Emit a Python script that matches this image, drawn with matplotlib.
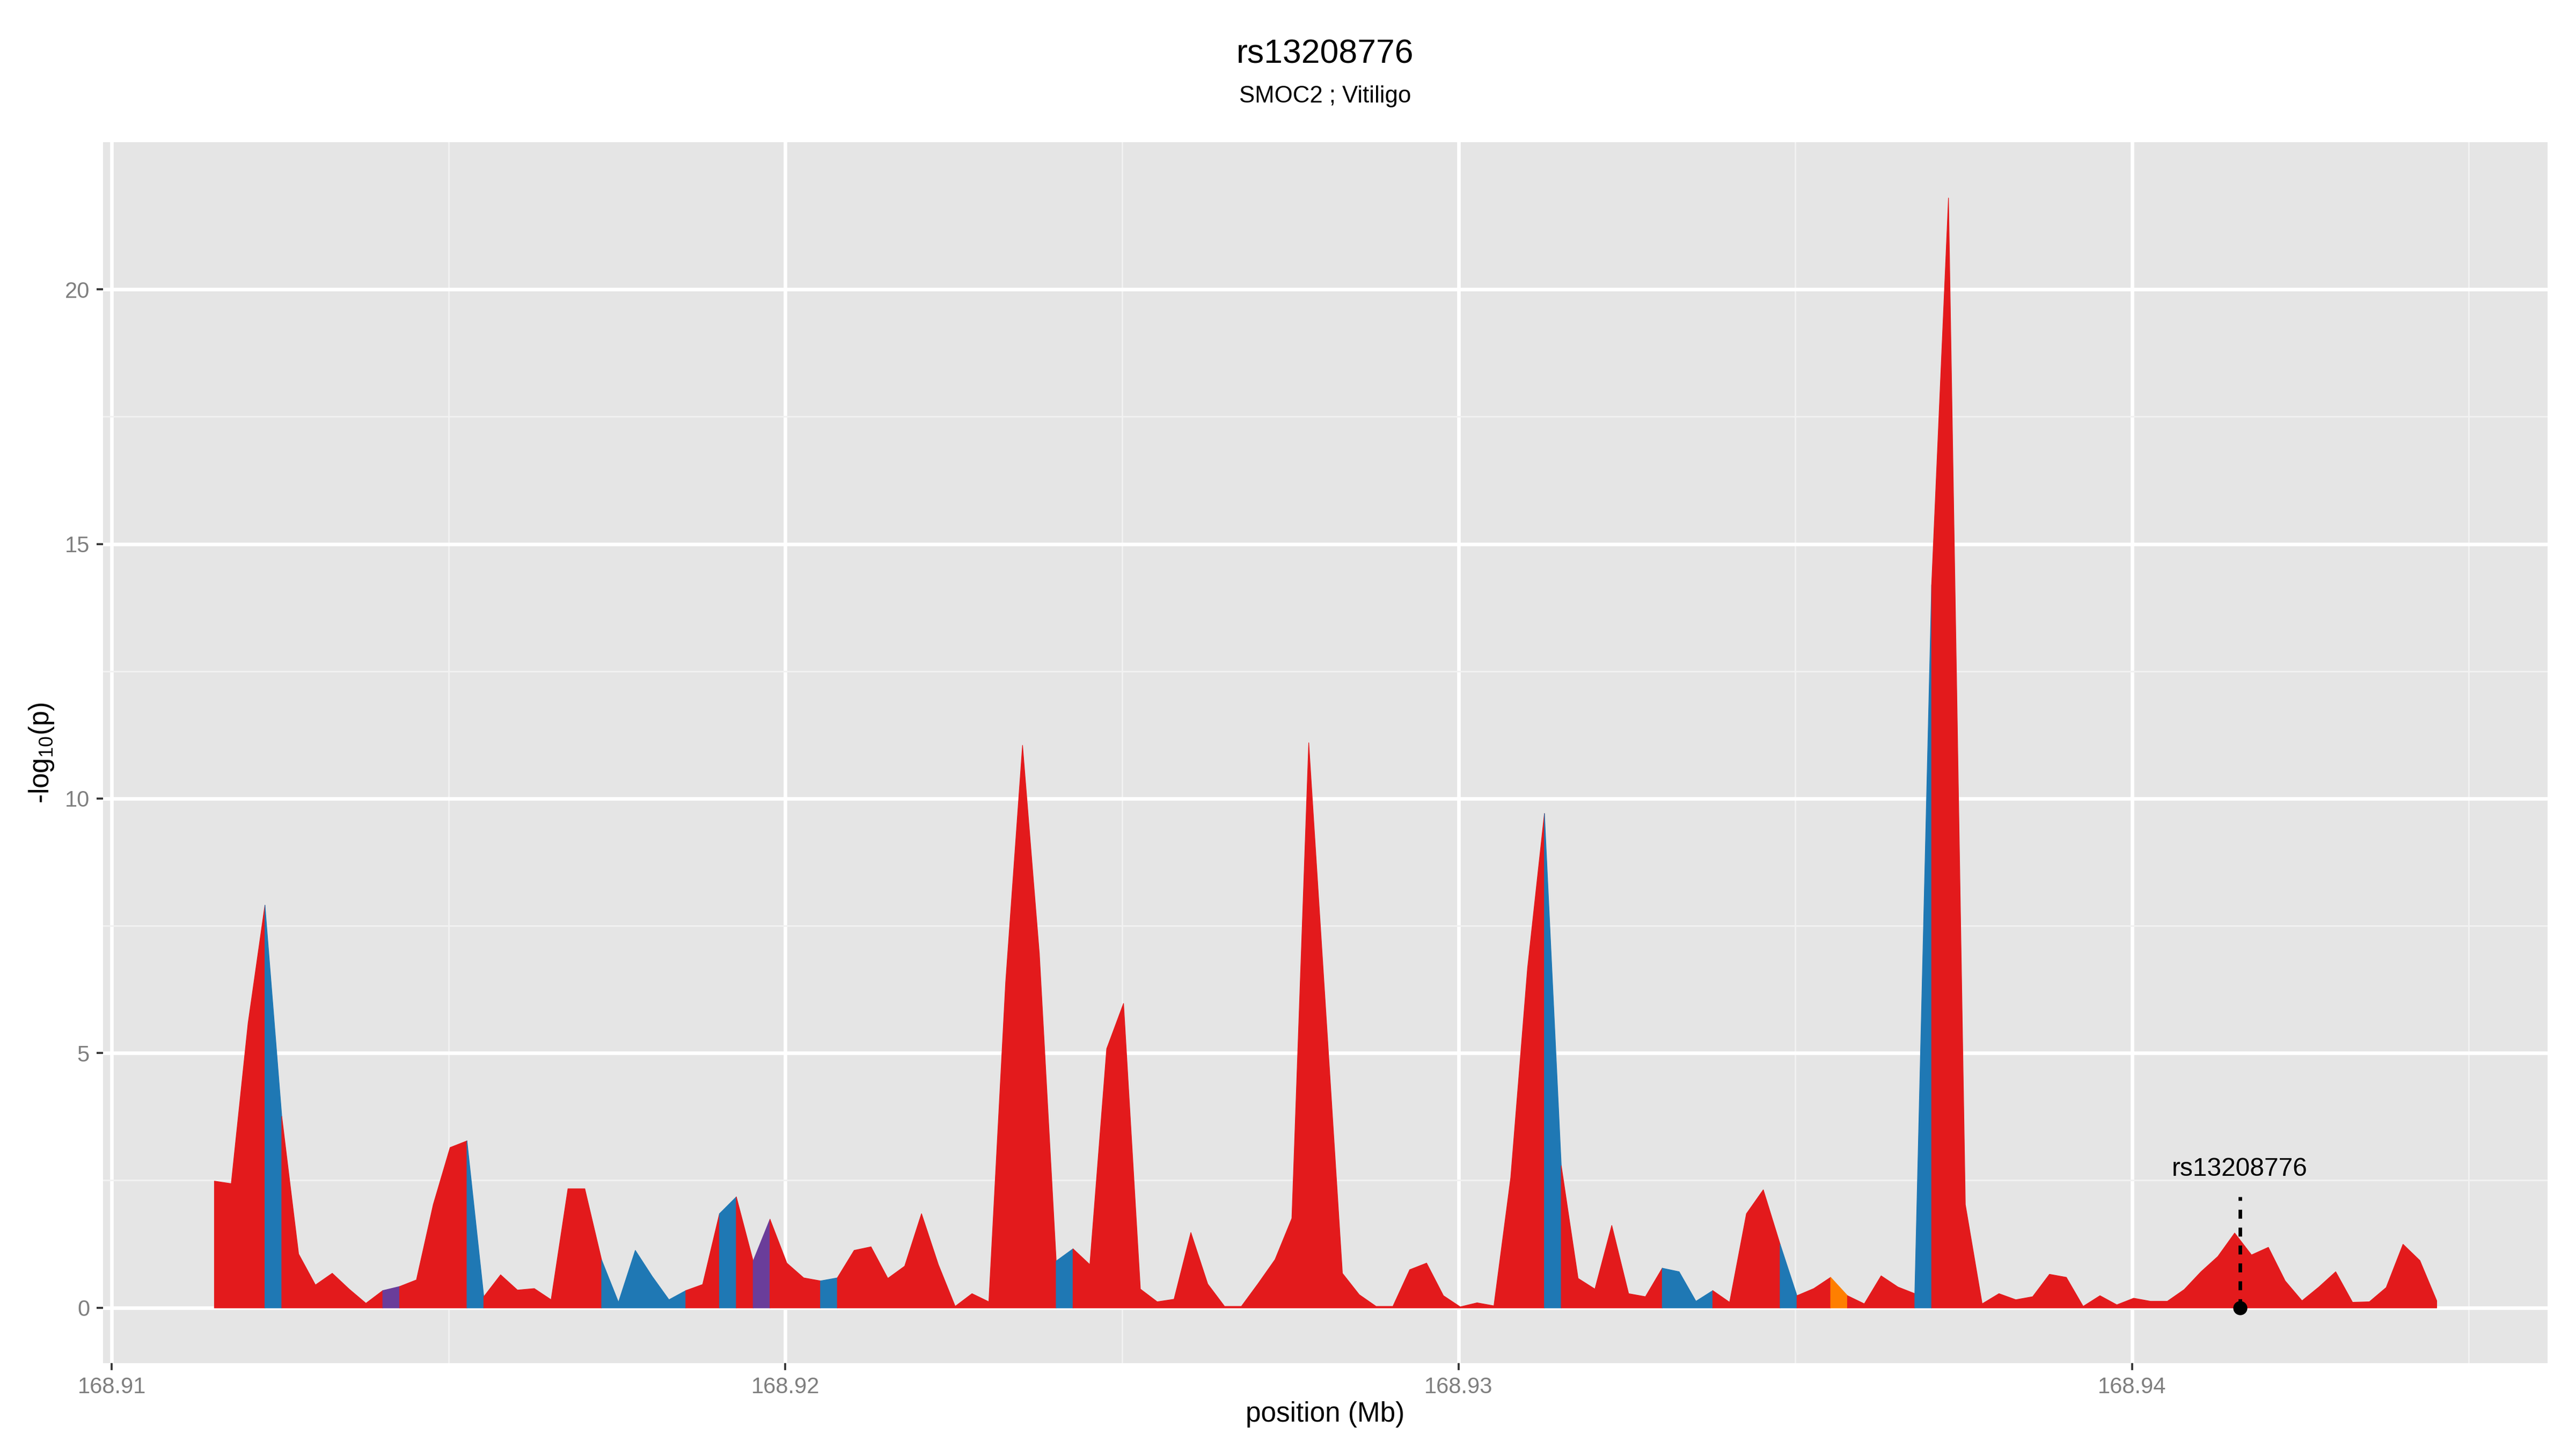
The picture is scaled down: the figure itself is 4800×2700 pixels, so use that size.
import numpy as np
from matplotlib import pyplot as plt

plt.rcParams['font.family'] = ['Liberation Sans', 'DejaVu Sans']
plt.rcParams['mathtext.fontset'] = 'custom'
plt.rcParams['mathtext.rm'] = 'Liberation Sans'
plt.rcParams['mathtext.it'] = 'Liberation Sans'

# SNP positions (Mb)
pos = [
    168.91152, 168.91177, 168.91202, 168.91227, 168.91252, 168.91277, 168.91302, 168.91327,
    168.91352, 168.91377, 168.91402, 168.91427, 168.91452, 168.91477, 168.91502, 168.91527,
    168.91552, 168.91577, 168.91602, 168.91627, 168.91652, 168.91677, 168.91702, 168.91727,
    168.91752, 168.91777, 168.91802, 168.91827, 168.91852, 168.91877, 168.91902, 168.91927,
    168.91952, 168.91977, 168.92002, 168.92027, 168.92052, 168.92077, 168.92102, 168.92127,
    168.92152, 168.92177, 168.92202, 168.92227, 168.92252, 168.92277, 168.92302, 168.92327,
    168.92352, 168.92377, 168.92402, 168.92427, 168.92452, 168.92477, 168.92502, 168.92527,
    168.92552, 168.92577, 168.92602, 168.92627, 168.92652, 168.92677, 168.92702, 168.92727,
    168.92752, 168.92777, 168.92802, 168.92827, 168.92852, 168.92877, 168.92902, 168.92927,
    168.92952, 168.92977, 168.93002, 168.93027, 168.93052, 168.93077, 168.93102, 168.93127,
    168.93152, 168.93177, 168.93202, 168.93227, 168.93252, 168.93277, 168.93302, 168.93327,
    168.93352, 168.93377, 168.93402, 168.93427, 168.93452, 168.93477, 168.93502, 168.93527,
    168.93552, 168.93577, 168.93602, 168.93627, 168.93652, 168.93677, 168.93702, 168.93727,
    168.93752, 168.93777, 168.93802, 168.93827, 168.93852, 168.93877, 168.93902, 168.93927,
    168.93952, 168.93977, 168.94002, 168.94027, 168.94052, 168.94077, 168.94102, 168.94127,
    168.94152, 168.94177, 168.94202, 168.94227, 168.94252, 168.94277, 168.94302, 168.94327,
    168.94352, 168.94377, 168.94402, 168.94427, 168.94452,
]

# -log10(p)
logp = [
    2.49, 2.44, 5.59, 7.91, 3.76, 1.06, 0.45, 0.68, 0.37, 0.09,
    0.34, 0.42, 0.55, 2.03, 3.15, 3.28, 0.22, 0.65, 0.35, 0.38,
    0.16, 2.34, 2.34, 0.94, 0.11, 1.13, 0.62, 0.16, 0.34, 0.46,
    1.85, 2.18, 0.92, 1.74, 0.88, 0.59, 0.53, 0.59, 1.13, 1.20,
    0.58, 0.82, 1.85, 0.85, 0.03, 0.28, 0.12, 6.40, 11.05, 6.95,
    0.92, 1.16, 0.85, 5.09, 5.98, 0.37, 0.12, 0.17, 1.48, 0.47,
    0.03, 0.03, 0.48, 0.95, 1.76, 11.10, 5.90, 0.68, 0.26, 0.03,
    0.03, 0.75, 0.88, 0.24, 0.02, 0.10, 0.04, 2.56, 6.68, 9.71,
    2.79, 0.58, 0.37, 1.62, 0.28, 0.22, 0.78, 0.71, 0.13, 0.34,
    0.11, 1.85, 2.32, 1.25, 0.24, 0.38, 0.60, 0.24, 0.08, 0.63,
    0.41, 0.28, 14.20, 21.80, 2.03, 0.08, 0.28, 0.16, 0.22, 0.66,
    0.60, 0.03, 0.24, 0.06, 0.19, 0.13, 0.13, 0.36, 0.71, 1.01,
    1.47, 1.04, 1.19, 0.53, 0.14, 0.41, 0.71, 0.11, 0.12, 0.40,
    1.25, 0.93, 0.14,
]

# fill class of each segment between neighbouring SNPs
seg_class = list(
    "RRRBRRRRRR" "PRRRRBRRRR" "RRRBBBBBRR" "BRPRRRBRRR" "RRRRRRRRRR"
    "BRRRRRRRRR" "RRRRRRRRRR" "RRRRRRRRRB" "RRRRRRBBBR" "RRRBRRORRR"
    "RBRRRRRRRR" "RRRRRRRRRR" "RRRRRRRRRR" "RR"
)
class_colors = {'R': '#E31A1C', 'B': '#1F78B4', 'P': '#6A3D9A', 'O': '#FF7F00'}

snp_name = 'rs13208776'
snp_pos = 168.9416
snp_line_top = 2.18
snp_label_y = 2.72

title = 'rs13208776'
subtitle = 'SMOC2 ; Vitiligo'

W, H = 4800, 2700
fig = plt.figure(figsize=(16, 9), dpi=300)

xr = pos[-1] - pos[0]
xlim = (pos[0] - 0.05 * xr, pos[-1] + 0.05 * xr)
ymax = max(logp)
ylim = (-0.05 * ymax, 1.05 * ymax)

left, right, top, bottom = 192, 4747, 265, 2540
ax = fig.add_axes([left / W, 1 - bottom / H, (right - left) / W, (bottom - top) / H])
ax.set_facecolor('#E5E5E5')
for s in ax.spines.values():
    s.set_visible(False)

# draw runs of the same class as one polygon
start = 0
for i in range(1, len(seg_class) + 1):
    if i == len(seg_class) or seg_class[i] != seg_class[start]:
        c = class_colors[seg_class[start]]
        ax.fill_between(pos[start:i + 1], logp[start:i + 1], 0, facecolor=c,
                        edgecolor=c, linewidth=0.3, zorder=2)
        start = i

ax.plot([snp_pos, snp_pos], [0, snp_line_top], color='black', lw=1.6,
        linestyle=(0, (2.5, 2.5)), zorder=3)
ax.plot([snp_pos], [0], 'o', color='black', markersize=5.3, zorder=4)
ax.text(snp_pos, snp_label_y, snp_name, ha='center', va='center', fontsize=11.5, zorder=4)

ax.set_xticks([168.91, 168.92, 168.93, 168.94])
ax.set_xticklabels(['168.91', '168.92', '168.93', '168.94'])
ax.set_xticks([168.915, 168.925, 168.935, 168.945], minor=True)
ax.set_yticks([0, 5, 10, 15, 20])
ax.set_yticks([2.5, 7.5, 12.5, 17.5], minor=True)
ax.set_xlim(xlim)
ax.set_ylim(ylim)
ax.grid(which='major', color='white', linewidth=1.6)
ax.grid(which='minor', color='#F2F2F2', linewidth=0.65)
ax.set_axisbelow(True)
ax.tick_params(which='major', length=3, width=0.9, color='#333333',
               labelcolor='#7F7F7F', labelsize=10, pad=3)
ax.tick_params(which='minor', length=0)

cx = (left + right) / 2 / W
fig.text(cx, 1 - 101 / H, title, ha='center', va='center', fontsize=15)
fig.text(cx, 1 - 180 / H, subtitle, ha='center', va='center', fontsize=10.5)
fig.text(cx, 1 - 2636 / H, 'position (Mb)', ha='center', va='center', fontsize=12.3)
fig.text(77 / W, 1 - ((top + bottom) / 2) / H, r'-log$_{10}$(p)', ha='center', va='center',
         rotation=90, fontsize=12.3)

fig.savefig('out.png', dpi=300, facecolor='white')
